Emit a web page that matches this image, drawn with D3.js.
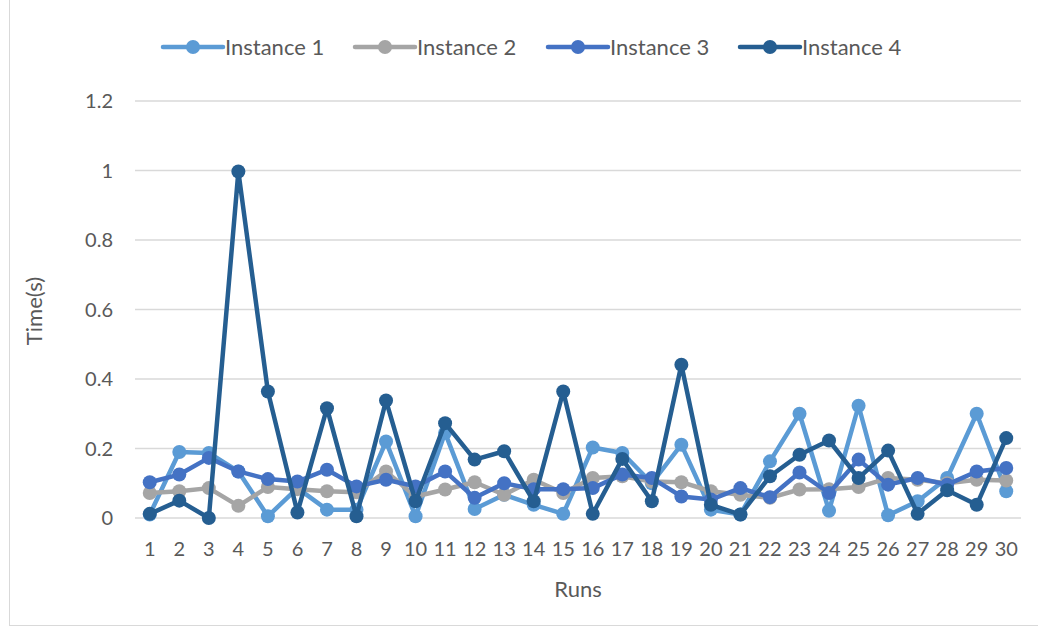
<!DOCTYPE html>
<html lang="en">
<head>
<meta charset="UTF-8">
<title>Runs chart</title>
<script src="https://d3js.org/d3.v7.min.js"></script>
<style>
    body { margin: 0; background: #fff; }
    svg text { font-family: Lato, "Open Sans", sans-serif; fill: #595959; }
</style>
</head>
<body>
<div class="container"></div>
<script>
    // data
    const runs = d3.range(1, 31);
    const seriesNames = ["Instance 1", "Instance 2", "Instance 3", "Instance 4"];
    const colours = ["#5B9BD5", "#A5A5A5", "#4472C4", "#255E91"];
    const yTicks = [0, 0.2, 0.4, 0.6, 0.8, 1, 1.2];

    const instance1 = [0.01, 0.19, 0.187, 0.134, 0.005, 0.086, 0.024, 0.024, 0.22, 0.005,
                       0.245, 0.026, 0.067, 0.038, 0.012, 0.203, 0.187, 0.1, 0.211, 0.024,
                       0.01, 0.163, 0.3, 0.021, 0.323, 0.008, 0.048, 0.115, 0.3, 0.077];
    const instance2 = [0.072, 0.077, 0.086, 0.035, 0.089, 0.083, 0.077, 0.074, 0.134, 0.062,
                       0.082, 0.103, 0.067, 0.11, 0.072, 0.115, 0.12, 0.105, 0.103, 0.077,
                       0.067, 0.058, 0.082, 0.083, 0.089, 0.115, 0.11, 0.1, 0.11, 0.108];
    const instance3 = [0.103, 0.125, 0.173, 0.134, 0.112, 0.105, 0.139, 0.091, 0.11, 0.091,
                       0.134, 0.058, 0.1, 0.083, 0.083, 0.086, 0.125, 0.115, 0.062, 0.053,
                       0.086, 0.06, 0.131, 0.072, 0.168, 0.096, 0.115, 0.096, 0.134, 0.144];
    const instance4 = [0.012, 0.05, 0.0, 0.997, 0.364, 0.016, 0.316, 0.005, 0.338, 0.048,
                       0.273, 0.168, 0.192, 0.048, 0.364, 0.012, 0.17, 0.048, 0.441, 0.038,
                       0.01, 0.12, 0.182, 0.223, 0.115, 0.194, 0.012, 0.08, 0.038, 0.23];
    const allSeries = [instance1, instance2, instance3, instance4];

    const W = 1038, H = 630;
    const plot = { left: 135, right: 1021, top: 101, bottom: 518 };

    let svg = d3.select(".container")
        .append("svg")
        .attr("width", W)
        .attr("height", H);

    // chart border
    svg.append("rect")
        .attr("x", 9.5).attr("y", -1)
        .attr("width", W + 5).attr("height", 626.5)
        .attr("fill", "#fff")
        .attr("stroke", "#D9D9D9");

    const x = d3.scalePoint()
        .domain(runs)
        .range([plot.left, plot.right])
        .padding(0.5);

    const y = d3.scaleLinear()
        .domain([0, 1.2])
        .range([plot.bottom, plot.top]);

    // gridlines
    svg.append("g")
        .selectAll("line")
        .data(yTicks)
        .join("line")
        .attr("x1", plot.left).attr("x2", plot.right)
        .attr("y1", d => y(d)).attr("y2", d => y(d))
        .attr("stroke", "#D9D9D9")
        .attr("stroke-width", 1.3);

    // y labels
    svg.append("g")
        .selectAll("text")
        .data(yTicks)
        .join("text")
        .attr("x", 113)
        .attr("y", d => y(d))
        .attr("dy", "0.35em")
        .attr("text-anchor", "end")
        .attr("font-size", 20)
        .text(d => d);

    // x labels
    svg.append("g")
        .selectAll("text")
        .data(runs)
        .join("text")
        .attr("x", d => x(d))
        .attr("y", 556)
        .attr("text-anchor", "middle")
        .attr("font-size", 20)
        .text(d => d);

    // axis titles
    svg.append("text")
        .attr("transform", "translate(42,311) rotate(-90)")
        .attr("text-anchor", "middle")
        .attr("font-size", 22)
        .text("Time(s)");

    svg.append("text")
        .attr("x", 578)
        .attr("y", 597)
        .attr("text-anchor", "middle")
        .attr("font-size", 22)
        .text("Runs");

    const line = d3.line()
        .x((d, i) => x(runs[i]))
        .y(d => y(d));

    // series
    allSeries.forEach((vals, s) => {
        let g = svg.append("g");
        g.append("path")
            .attr("d", line(vals))
            .attr("fill", "none")
            .attr("stroke", colours[s])
            .attr("stroke-width", 4.5)
            .attr("stroke-linejoin", "round");
        g.selectAll("circle")
            .data(vals)
            .join("circle")
            .attr("cx", (d, i) => x(runs[i]))
            .attr("cy", d => y(d))
            .attr("r", 7)
            .attr("fill", colours[s]);
    });

    // legend
    const legendX = [163, 355, 548, 740];
    const legend = svg.append("g")
        .selectAll("g")
        .data(seriesNames)
        .join("g")
        .attr("transform", (d, i) => "translate(" + legendX[i] + ",47)");
    legend.append("line")
        .attr("x1", 0).attr("x2", 60)
        .attr("stroke", (d, i) => colours[i])
        .attr("stroke-width", 4.5)
        .attr("stroke-linecap", "round");
    legend.append("circle")
        .attr("cx", 30).attr("r", 7)
        .attr("fill", (d, i) => colours[i]);
    legend.append("text")
        .attr("x", 62)
        .attr("dy", "0.35em")
        .attr("font-size", 22)
        .text(d => d);
</script>
</body>
</html>
